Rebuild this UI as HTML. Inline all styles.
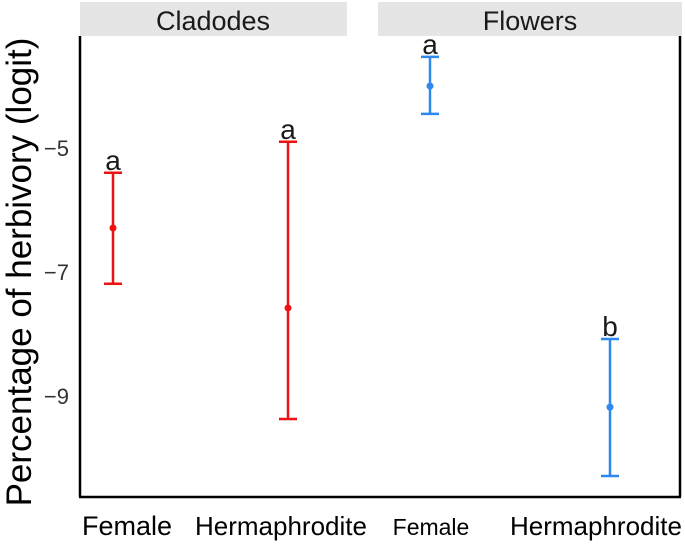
<!DOCTYPE html>
<html><head><meta charset="utf-8"><style>
body{margin:0;background:#fff}
svg{display:block;font-family:"Liberation Sans",Arial,sans-serif}
</style></head><body>
<svg id="c" width="685" height="544">
<rect x="80" y="2" width="267" height="34" fill="#e5e5e5"/>
<text x="213" y="30" font-size="27" text-anchor="middle" fill="#1a1a1a">Cladodes</text>
<rect x="378" y="2" width="304" height="34" fill="#e5e5e5"/>
<text x="530" y="30" font-size="27" text-anchor="middle" fill="#1a1a1a">Flowers</text>
<line x1="80" y1="36" x2="80" y2="497" stroke="#000" stroke-width="2.5"/>
<line x1="79" y1="497" x2="681" y2="497" stroke="#000" stroke-width="2.5"/>
<line x1="680" y1="36" x2="680" y2="497" stroke="#000" stroke-width="2.5"/>
<text transform="translate(31,272) rotate(-90)" font-size="35" text-anchor="middle" fill="#000">Percentage of herbivory (logit)</text>
<g id="yt"></g><g id="marks"></g>
</svg>
<script>
const categories=["Female","Hermaphrodite","Female","Hermaphrodite"];
const panels=["Cladodes","Cladodes","Flowers","Flowers"];
const means=[-6.29,-7.58,-4.00,-9.18];
const upper=[-5.40,-4.90,-3.53,-8.08];
const lower=[-7.19,-9.37,-4.45,-10.29];
const letters=["a","a","a","b"];
const yTicks=[-5,-7,-9];
const tickLabels=["\u22125","\u22127","\u22129"];
const xPos=[113,288,430,610];
const labelX=[127,281,431,596];
const labelSize=[27,26,23,26];
const colors=["#ee1111","#ee1111","#2f88ee","#2f88ee"];
function y(v){return 148+(-5-v)*62;}
const ns="http://www.w3.org/2000/svg";
function mk(t,a,p){const e=document.createElementNS(ns,t);for(const k in a)e.setAttribute(k,a[k]);p.appendChild(e);return e;}
const yt=document.getElementById('yt'),m=document.getElementById('marks');
yTicks.forEach((v,i)=>{const t=mk('text',{x:69,y:y(v)+8,'font-size':22,'text-anchor':'end',fill:'#333'},yt);t.textContent=tickLabels[i];

});
categories.forEach((c,i)=>{const g=mk('g',{},m);


const x=xPos[i],col=colors[i];
mk('line',{x1:x,x2:x,y1:y(upper[i]),y2:y(lower[i]),stroke:col,'stroke-width':2.5},g);
mk('line',{x1:x-9,x2:x+9,y1:y(upper[i]),y2:y(upper[i]),stroke:col,'stroke-width':2.5},g);
mk('line',{x1:x-9,x2:x+9,y1:y(lower[i]),y2:y(lower[i]),stroke:col,'stroke-width':2.5},g);
mk('circle',{cx:x,cy:y(means[i]),r:3.5,fill:col},g);
const l=mk('text',{x:x,y:y(upper[i])-3,'font-size':28,'text-anchor':'middle',fill:'#1a1a1a'},g);l.textContent=letters[i];


const xl=mk('text',{x:labelX[i],y:535,'font-size':labelSize[i],'text-anchor':'middle',fill:'#000'},m);xl.textContent=c;

});
</script>
</body></html>
